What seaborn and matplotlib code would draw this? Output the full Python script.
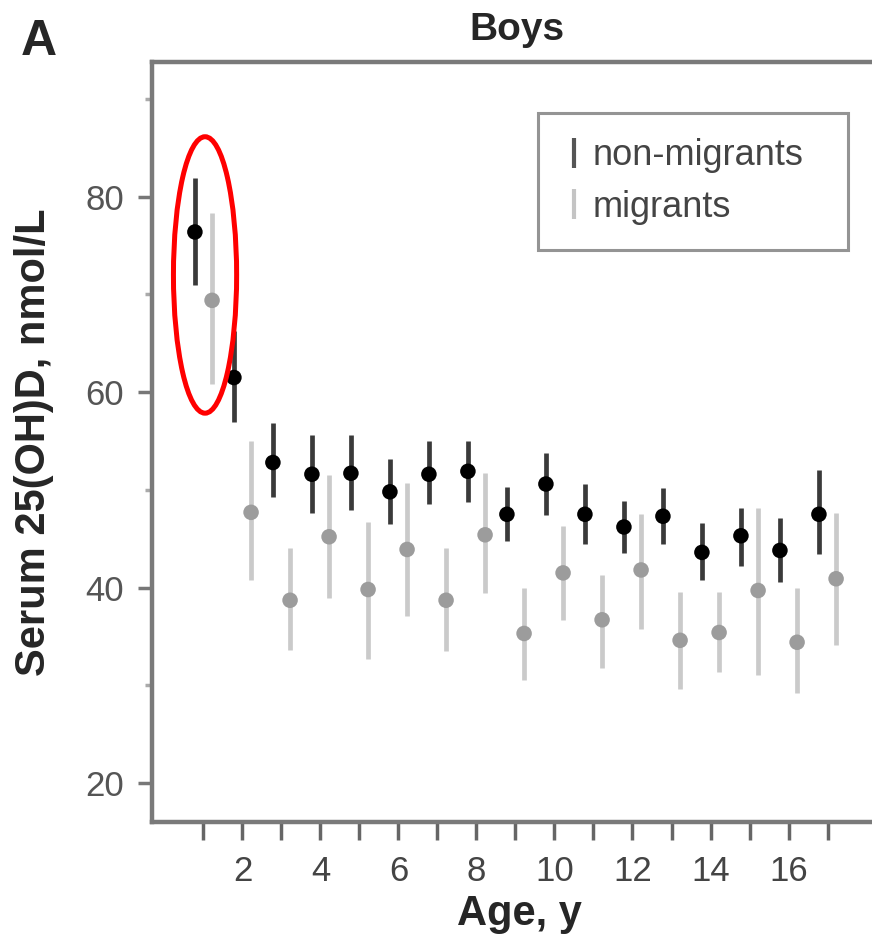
import numpy as np
import pandas as pd
import seaborn as sns
import matplotlib.pyplot as plt
from matplotlib.patches import Ellipse
from matplotlib.lines import Line2D

# values (serum 25(OH)D, nmol/L)
ages = list(range(1, 18))
nonmig_mean = [76.4, 61.5, 52.8, 51.6, 51.7, 49.8, 51.6, 51.9, 47.5, 50.6, 47.5, 46.2, 47.3, 43.6, 45.3, 43.8, 47.5]
nonmig_lo = [71.0, 56.9, 49.3, 47.6, 47.9, 46.5, 48.6, 48.8, 44.8, 47.4, 44.5, 43.5, 44.5, 40.8, 42.2, 40.6, 43.4]
nonmig_hi = [81.9, 66.3, 56.8, 55.6, 55.6, 53.2, 55.0, 55.0, 50.3, 53.8, 50.6, 48.9, 50.2, 46.6, 48.1, 47.1, 52.0]
mig_mean = [69.4, 47.7, 38.7, 45.2, 39.8, 43.9, 38.7, 45.4, 35.3, 41.5, 36.7, 41.8, 34.6, 35.4, 39.7, 34.4, 40.9]
mig_lo = [60.8, 40.8, 33.6, 38.9, 32.7, 37.1, 33.5, 39.4, 30.5, 36.7, 31.8, 35.8, 29.6, 31.4, 31.0, 29.2, 34.1]
mig_hi = [78.3, 55.0, 44.0, 51.5, 46.7, 50.7, 44.0, 51.7, 40.0, 46.3, 41.3, 47.5, 39.5, 39.5, 48.1, 40.0, 47.6]

groups = ["non-migrants", "migrants"]
offsets = {"non-migrants": -0.22, "migrants": 0.22}
point_colors = {"non-migrants": "#000000", "migrants": "#9c9c9c"}
bar_colors = {"non-migrants": "#3a3a3a", "migrants": "#cacaca"}
legend_colors = {"non-migrants": "#555555", "migrants": "#c4c4c4"}

df = pd.concat([
    pd.DataFrame({"age": ages, "group": "non-migrants", "mean": nonmig_mean, "lo": nonmig_lo, "hi": nonmig_hi}),
    pd.DataFrame({"age": ages, "group": "migrants", "mean": mig_mean, "lo": mig_lo, "hi": mig_hi}),
], ignore_index=True)
df["x"] = df["age"] + df["group"].map(offsets)

sns.set_style("ticks")
plt.rcParams["font.family"] = ["Liberation Sans", "DejaVu Sans"]

fig = plt.figure(figsize=(8.72, 9.49), dpi=100)
ax = fig.add_axes([152 / 872, 1 - 822 / 949, 750 / 872, 760 / 949])

# error bars
for g in groups:
    d = df[df["group"] == g]
    ax.vlines(d["x"], d["lo"], d["hi"], color=bar_colors[g], linewidth=3.4, zorder=2)

sns.scatterplot(data=df, x="x", y="mean", hue="group", palette=point_colors,
                s=125, edgecolor="none", legend=False, ax=ax, zorder=3)

# red ellipse highlighting age 1
ax.add_patch(Ellipse((1.04, 72.0), 1.62, 28.3, fill=False, edgecolor="#ff0000", linewidth=3.6, zorder=4))

ax.set_xlim(-0.32, 18.91)
ax.set_ylim(16.0, 93.8)
ax.set_xticks(ages)
ax.set_xticklabels([str(a) if a % 2 == 0 else "" for a in ages])
ax.set_yticks([20, 40, 60, 80])
ax.set_yticks([30, 50, 70, 90], minor=True)

for side in ["left", "bottom", "top"]:
    ax.spines[side].set_color("#7a7a7a")
    ax.spines[side].set_linewidth(3.2)
ax.spines["right"].set_visible(False)

ax.tick_params(axis="x", length=13, width=2.5, color="#666666", pad=11, labelsize=25, labelcolor="#444444")
ax.tick_params(axis="y", which="major", length=10, width=2.5, color="#777777", pad=10, labelsize=25, labelcolor="#555555")
ax.tick_params(axis="y", which="minor", length=5, width=2.5, color="#aaaaaa")

ax.set_xlabel("Age, y", fontsize=30, fontweight="bold")
ax.set_ylabel("Serum 25(OH)D, nmol/L", fontsize=30, fontweight="bold")
ax.xaxis.set_label_coords(0.49, -0.095)
ax.yaxis.set_label_coords(-0.13, 0.5)

fig.text(517 / 872, 1 - 30 / 949, "Boys", fontsize=28, fontweight="bold", ha="center", va="center")
fig.text(39 / 872, 1 - 42 / 949, "A", fontsize=36, fontweight="bold", ha="center", va="center")

handles = [Line2D([], [], linestyle="none", marker="|", markersize=22, markeredgewidth=3,
                  color=legend_colors[g]) for g in groups]
leg = ax.legend(handles, groups, loc="upper left", mode="expand",
                bbox_to_anchor=(538 / 872, 1 - 247 / 949, 310 / 872, 134 / 949),
                bbox_transform=fig.transFigure, borderaxespad=0, fontsize=26, frameon=True,
                fancybox=False, handlelength=0.6, handletextpad=0.2, labelspacing=0.45,
                borderpad=0.7)
leg.get_frame().set_edgecolor("#7a7a7a")
leg.get_frame().set_linewidth(2.2)
for t in leg.get_texts():
    t.set_color("#444444")

fig.savefig("out.png", dpi=100)
